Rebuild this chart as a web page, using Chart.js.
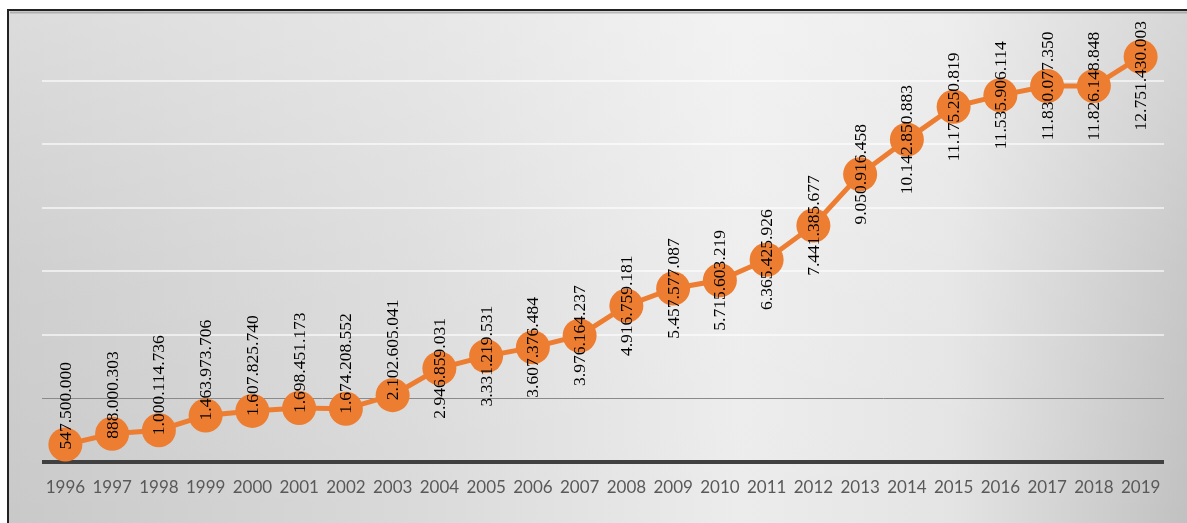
<!DOCTYPE html>
<html>
<head>
<meta charset="utf-8">
<script src="https://cdn.jsdelivr.net/npm/chart.js@4/dist/chart.umd.min.js"></script>
<style>
  html, body { margin: 0; padding: 0; background: #fff; }
  #wrap { position: relative; width: 1187px; height: 523px; }
</style>
</head>
<body>
<div id="wrap"><canvas id="myChart" width="1187" height="523"></canvas></div>
<script>
// yearly totals
const years = ['1996', '1997', '1998', '1999', '2000', '2001', '2002', '2003', '2004', '2005', '2006', '2007',
  '2008', '2009', '2010', '2011', '2012', '2013', '2014', '2015', '2016', '2017', '2018', '2019'];
const totals = [547500000, 888000303, 1000114736, 1463973706, 1607825740, 1698451173, 1674208552, 2102605041,
  2946859031, 3331219531, 3607376484, 3976164237, 4916759181, 5457577087, 5715603219, 6365425926,
  7441385677, 9050916458, 10142850883, 11175250819, 11535906114, 11830077350, 11826148848, 12751430003];
const yMax = 14000000000;
const yStep = 2000000000;

const orange = '#ED7D31';

// 547500000 -> "547.500.000"
function fmt(v) {
  return String(v).replace(/\B(?=(\d{3})+(?!\d))/g, '.');
}

// grey frame, lighter towards the upper middle
const backdrop = {
  id: 'backdrop',
  beforeDraw(chart) {
    const c = chart.ctx;
    const w = chart.width, h = chart.height;
    c.save();
    c.fillStyle = '#fff';
    c.fillRect(0, 0, w, h);
    const gx = c.createLinearGradient(8, 0, w, 0);
    gx.addColorStop(0, '#c9c9c9');
    gx.addColorStop(0.35, '#dadada');
    gx.addColorStop(0.62, '#ececec');
    gx.addColorStop(0.8, '#e4e4e4');
    gx.addColorStop(1, '#c1c1c1');
    c.fillStyle = gx;
    c.fillRect(8, 10, w - 8, h - 10);
    const gy = c.createLinearGradient(0, 10, 0, h);
    gy.addColorStop(0, 'rgba(255,255,255,0.35)');
    gy.addColorStop(0.5, 'rgba(255,255,255,0.12)');
    gy.addColorStop(1, 'rgba(255,255,255,0)');
    c.fillStyle = gy;
    c.fillRect(8, 10, w - 8, h - 10);
    c.strokeStyle = '#222';
    c.lineWidth = 2;
    c.beginPath();
    c.moveTo(8, h + 2);
    c.lineTo(8, 10);
    c.lineTo(w + 2, 10);
    c.stroke();
    c.strokeStyle = 'rgba(120,120,120,0.45)';
    c.beginPath();
    c.moveTo(10, 12.5);
    c.lineTo(w, 12.5);
    c.stroke();
    c.restore();
  }
};

// rotated value labels; the early low values start at the point, the rest are centred on it
const valueLabels = {
  id: 'valueLabels',
  afterDatasetsDraw(chart) {
    const c = chart.ctx;
    const area = chart.chartArea;
    const pts = chart.getDatasetMeta(0).data;
    c.save();
    c.font = '17.5px "Liberation Serif", "Times New Roman", serif';
    c.fillStyle = '#000';
    c.textBaseline = 'middle';
    c.textAlign = 'left';
    pts.forEach((p, i) => {
      const txt = fmt(totals[i]);
      const len = c.measureText(txt).width;
      let bottom;
      if (i < 8) {
        bottom = p.y + 5;
      } else {
        bottom = p.y + len / 2;
      }
      if (bottom - len < area.top + 4) bottom = area.top + 4 + len;
      c.save();
      c.translate(p.x, bottom);
      c.rotate(-Math.PI / 2);
      c.fillText(txt, 0, 1);
      c.restore();
    });
    c.restore();
  }
};

const ctx = document.getElementById('myChart').getContext('2d');
new Chart(ctx, {
  type: 'line',
  data: {
    labels: years,
    datasets: [{
      data: totals,
      borderColor: orange,
      backgroundColor: orange,
      borderWidth: 5,
      pointRadius: 17,
      pointHoverRadius: 17,
      pointBorderWidth: 0,
      pointBackgroundColor: orange,
      tension: 0
    }]
  },
  options: {
    responsive: false,
    animation: false,
    events: [],
    layout: { padding: { left: 42, right: 23, top: 14, bottom: 0 } },
    plugins: {
      legend: { display: false },
      tooltip: { enabled: false }
    },
    scales: {
      x: {
        offset: true,
        grid: { display: false, drawTicks: false },
        border: { display: false },
        ticks: {
          color: '#595959',
          font: { family: 'Lato', size: 17 },
          padding: 15,
          maxRotation: 0,
          autoSkip: false
        },
        afterFit(scale) { scale.height = 61; }
      },
      y: {
        min: 0,
        max: yMax,
        ticks: { display: false, stepSize: yStep },
        border: { display: false },
        grid: {
          drawTicks: false,
          color(c) {
            if (c.tick.value === 0) return '#404040';
            if (c.tick.value === yStep) return '#8a8a8a';
            if (c.tick.value === yMax) return 'rgba(0,0,0,0)';
            return 'rgba(255,255,255,0.6)';
          },
          lineWidth(c) {
            if (c.tick.value === 0) return 4;
            if (c.tick.value === yStep) return 1;
            return 2;
          }
        },
        afterFit(scale) { scale.width = 0; }
      }
    }
  },
  plugins: [backdrop, valueLabels]
});
</script>
</body>
</html>
